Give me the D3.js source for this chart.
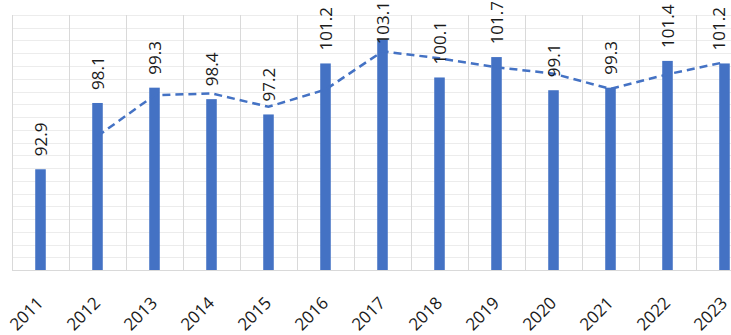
<!DOCTYPE html>
<html>
<head>
<meta charset="utf-8">
<script src="https://cdn.jsdelivr.net/npm/d3@7"></script>
<style>
  html, body { margin: 0; padding: 0; background: #fff; overflow: hidden; }
  svg { display: block; font-family: "Open Sans", "Liberation Sans", sans-serif; }
</style>
</head>
<body>
<svg id="chart" width="731" height="335"></svg>
<script>
'use strict';

// data
var years = ['2011', '2012', '2013', '2014', '2015', '2016', '2017',
             '2018', '2019', '2020', '2021', '2022', '2023'];
var values = [92.9, 98.1, 99.3, 98.4, 97.2, 101.2, 103.1,
              100.1, 101.7, 99.1, 99.3, 101.4, 101.2];
// dashed trend (2-period moving average), first year has none
var trend = [null, 95.5, 98.7, 98.85, 97.8, 99.15, 102.15,
             101.6, 100.9, 100.4, 99.2, 100.35, 101.3];
var yTicks = d3.range(85, 106, 1);

var svg = d3.select('#chart'),
    plotLeft = 12,
    step = 57,
    plotTop = 15,
    plotBottom = 270,
    blue = '#4472C4';

var x = d3.scaleBand()
  .domain(years)
  .range([plotLeft, plotLeft + step * years.length])
  .paddingInner(0.815)
  .paddingOuter(0.4075);

var y = d3.scaleLinear().domain([85, 105]).range([plotBottom, plotTop]);

var cx = function (d) { return x(d) + x.bandwidth() / 2; };
var edge = function (d) { return Math.round(cx(d) - x.step() / 2) + 0.5; };

// horizontal minor gridlines
svg.append('g')
  .selectAll('line')
  .data(yTicks)
  .join('line')
    .attr('x1', plotLeft)
    .attr('x2', 731)
    .attr('y1', function (d) { return Math.round(y(d)) + 0.5; })
    .attr('y2', function (d) { return Math.round(y(d)) + 0.5; })
    .attr('stroke', function (d) { return d === 85 ? '#d9d9d9' : '#ececec'; })
    .attr('stroke-width', 1);

// vertical gridlines at category boundaries
svg.append('g')
  .selectAll('line')
  .data(years)
  .join('line')
    .attr('x1', edge)
    .attr('x2', edge)
    .attr('y1', plotTop)
    .attr('y2', plotBottom)
    .attr('stroke', '#d9d9d9')
    .attr('stroke-width', 1);

// bars
svg.append('g')
  .selectAll('rect')
  .data(values)
  .join('rect')
    .attr('x', function (d, i) { return x(years[i]); })
    .attr('y', function (d) { return y(d); })
    .attr('width', x.bandwidth())
    .attr('height', function (d) { return plotBottom - y(d); })
    .attr('fill', blue);

// dashed trend line
var line = d3.line()
  .defined(function (d) { return d != null; })
  .x(function (d, i) { return cx(years[i]); })
  .y(function (d) { return y(d); });

svg.append('path')
  .datum(trend)
  .attr('d', line)
  .attr('fill', 'none')
  .attr('stroke', blue)
  .attr('stroke-width', 2.5)
  .attr('stroke-dasharray', '8,5');

// value labels, rotated; kept inside the top and right edges
var labels = svg.append('g')
  .selectAll('text')
  .data(values)
  .join('text')
    .text(function (d) { return d.toFixed(1); })
    .attr('font-size', 17)
    .attr('fill', '#1a1a1a')
    .attr('text-anchor', 'start');

labels.each(function (d, i) {
  var len = this.getComputedTextLength(),
      start = y(d) - 13;
  if (start - len < 1) start = len + 1;
  d3.select(this).attr('transform',
    'translate(' + Math.min(cx(years[i]) + 6, 725) + ',' + start + ') rotate(-90)');
});

// year labels
svg.append('g')
  .selectAll('text')
  .data(years)
  .join('text')
    .text(function (d) { return d; })
    .attr('font-size', 17)
    .attr('fill', '#1a1a1a')
    .attr('text-anchor', 'end')
    .attr('transform', function (d) {
      return 'translate(' + (cx(d) + 4) + ',304) rotate(-45)';
    });
</script>
</body>
</html>
